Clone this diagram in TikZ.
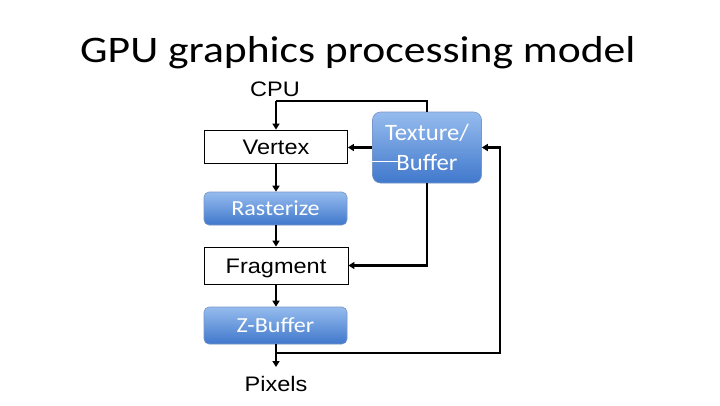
\documentclass[tikz,border=0pt]{standalone}
\usepackage{fontspec}
\usepackage{graphicx}
\setmainfont{Carlito}
\newfontfamily\arialf{Liberation Sans}
\usetikzlibrary{arrows.meta}
\newcommand{\sxx}[1]{\scalebox{1.12}[1]{#1}}
\definecolor{bluetop}{RGB}{150,188,238}
\definecolor{bluebot}{RGB}{64,120,204}
\definecolor{blueedge}{RGB}{120,150,200}
\begin{document}
\begin{tikzpicture}[x=1pt,y=-1pt,
  plainbox/.style={draw=black, line width=0.8pt, fill=white, minimum width=143pt, minimum height=33pt, inner sep=0pt,
    font=\arialf\fontsize{21}{25}\selectfont, text height=15pt, text depth=0pt},
  bluefill/.style={draw=blueedge, line width=0.6pt, top color=bluetop, bottom color=bluebot, text=white, inner sep=0pt},
  bluebox/.style={bluefill, rounded corners=5pt, minimum width=143pt, minimum height=33pt,
    font=\fontsize{21.5}{25}\selectfont, text height=13.8pt, text depth=0pt},
  texbox/.style={bluefill, rounded corners=8pt, minimum width=109pt, minimum height=71pt,
    align=center, font=\fontsize{23.5}{30}\selectfont},
  lbl/.style={inner sep=0pt, font=\arialf\fontsize{21}{25}\selectfont},
  conn/.style={draw=black, line width=2.2pt, -{Triangle[length=6pt,width=7pt]}},
  wire/.style={draw=black, line width=2.2pt}
]
\useasboundingbox (0,0) rectangle (720,405);
\fill[white] (0,0) rectangle (720,405);

\node[anchor=base west, inner sep=0pt, font=\fontsize{37.5}{40}\selectfont] (title) at (80,62.3)
  {\scalebox{1.163}[1]{GPU graphics processing model}};

\node[lbl, anchor=base] (cpu) at (275,96.5) {\sxx{CPU}};
\node[plainbox] (vertex) at (276,146.5) {\sxx{Vertex}};
\node[bluebox, minimum height=33pt] (rast) at (275.5,208.5) {\sxx{Rasterize}};
\node[plainbox, minimum height=37pt, minimum width=144pt] (frag) at (276,265.5) {\sxx{Fragment}};
\node[bluebox, minimum height=37pt] (zbuf) at (275.5,325.5) {\sxx{Z-Buffer}};
\node[lbl, anchor=base] (pixels) at (276,391.5) {\sxx{Pixels}};

\node[texbox] (tex) at (427,147.5)
  {\scalebox{1.05}[1]{Texture/}\\\scalebox{1.05}[1]{Buffer}};
\draw[white, line width=0.8pt] (tex.west |- 0,161.5) -- (398,161.5);

\coordinate (cputurn) at (276,101);
\coordinate (pixin) at (276,367);
\coordinate (branch) at (276,353);
\coordinate (rightturn) at (500,147.5);

\draw[wire] (tex.north) |- (cputurn);
\draw[conn] (cputurn) -- (vertex.north);
\draw[conn] (tex.west) -- (tex.west -| vertex.east);
\draw[conn] (vertex.south) -- (vertex.south |- rast.north);
\draw[conn] (rast.south -| frag.north) -- (frag.north);
\draw[conn] (frag.south) -- (frag.south |- zbuf.north);
\draw[conn] (zbuf.south -| pixin) -- (pixin);
\draw[conn] (branch) -| (rightturn) -- (tex.east);
\draw[conn] (tex.south) |- (frag.east);
\end{tikzpicture}
\end{document}
